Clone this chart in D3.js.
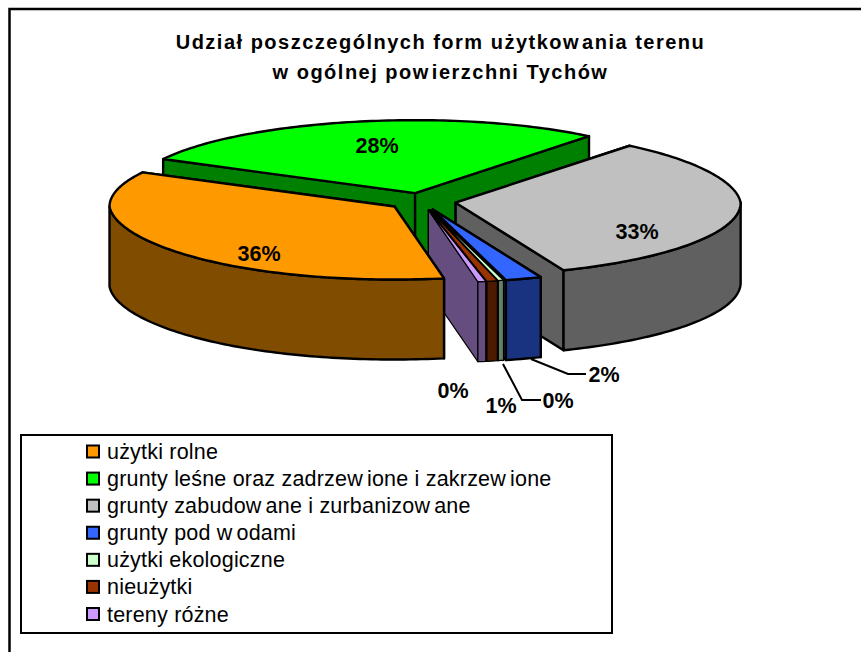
<!DOCTYPE html>
<html><head><meta charset="utf-8">
<style>html,body{margin:0;padding:0;background:#fff;overflow:hidden}svg{display:block}text{font-family:"Liberation Sans",Arial,sans-serif;fill:#000}</style>
<script src="https://cdn.jsdelivr.net/npm/d3@7"></script>
</head><body><script>
const titleLines = ["Udział poszczególnych form użytkowania terenu", "w ogólnej powierzchni Tychów"];
const categories = ["użytki rolne", "grunty leśne oraz zadrzewione i zakrzewione", "grunty zabudowane i zurbanizowane", "grunty pod wodami", "użytki ekologiczne", "nieużytki", "tereny różne"];
const values = [35.5, 28.0, 33.05, 2.05, 0.3, 0.6, 0.45];
const labels = ["36%", "28%", "33%", "2%", "0%", "1%", "0%"];
const colors = ["#FF9900", "#00FF00", "#C0C0C0", "#3366FF", "#CCFFCC", "#993300", "#CC99FF"];
const labelPos = [[259,253],[377,145],[637,231],[604,374],[558,400],[501,405],[453,390]];
const leaders = {3: [[531,359],[568,374],[586,374]], 4: [[503,364],[522,400],[541,400]]};

const W = 861, H = 652;
const cx = 422, cy = 201.5, rx = 285, ry = 73, depth = 80, explodeX = 34, explodeY = 8.5, backNarrow = 0.05;
const startAngle = 170 * Math.PI / 180;

const svg = d3.select("body").append("svg").attr("width", W).attr("height", H);
svg.append("path").attr("d", `M9.5,${H}V9H${W}`).attr("fill", "none").attr("stroke", "#000").attr("stroke-width", 2.5);

const arcs = d3.pie().sort(null).value(d => d).startAngle(startAngle).endAngle(startAngle + 2 * Math.PI)(values);
const line = d3.line();

function rimPoint(c, a, dy) {
  const k = 1 - backNarrow * Math.max(0, Math.cos(a) * Math.sin(a));
  return [c[0] + rx * k * Math.sin(a), c[1] - ry * Math.cos(a) + dy];
}
function rimPoints(c, a0, a1, dy) {
  const n = Math.max(2, Math.ceil((a1 - a0) / 0.02));
  return d3.range(n + 1).map(i => rimPoint(c, a0 + (a1 - a0) * i / n, dy));
}
function drawShape(g, pts, fill, sw) {
  g.append("path").attr("d", line(pts) + "Z").attr("fill", fill)
    .attr("stroke", "#000").attr("stroke-width", sw).attr("stroke-linejoin", "round");
}
function drawSlice(i) {
  const s = arcs[i], mid = (s.startAngle + s.endAngle) / 2;
  const sw = values[i] < 1 ? 1.25 : 2.4;
  const c = [cx + explodeX * Math.sin(mid), cy - explodeY * Math.cos(mid)];
  const g = svg.append("g");
  const base = d3.rgb(colors[i]);
  const wall = d3.rgb(base.r / 2, base.g / 2, base.b / 2).formatHex();
  const edge = a => {
    const p = rimPoint(c, a, 0);
    drawShape(g, [c, p, [p[0], p[1] + depth], [c[0], c[1] + depth]], wall, sw);
  };
  edge(s.startAngle);
  edge(s.endAngle);
  const lo = Math.PI / 2, hi = 3 * Math.PI / 2;
  [0, 2 * Math.PI].forEach(shift => {
    const a0 = Math.max(s.startAngle, lo + shift), a1 = Math.min(s.endAngle, hi + shift);
    if (a1 > a0) drawShape(g, rimPoints(c, a0, a1, 0).concat(rimPoints(c, a0, a1, depth).reverse()), wall, sw);
  });
  drawShape(g, [c].concat(rimPoints(c, s.startAngle, s.endAngle, 0)), colors[i], sw);
}
[1, 2, 3, 4, 5, 6, 0].forEach(drawSlice);

// The source renders "w" with a visible gap after it; keep the words whole, shift the following glyphs.
function spaced(t, str, gap) {
  str.split(/(?<=w)(?=[a-ząćęłńóśźż])/).forEach((part, i) => {
    const ts = t.append("tspan").text(part);
    if (i) ts.attr("dx", gap);
  });
  return t;
}
const titleY = [48.5, 79];
titleLines.forEach((l, i) => {
  spaced(svg.append("text").attr("x", 440.5).attr("y", titleY[i]).attr("text-anchor", "middle").attr("font-size", 20).attr("letter-spacing", 1.5).attr("font-weight", "bold"), l, 2);
});
labels.forEach((l, i) => {
  svg.append("text").attr("x", labelPos[i][0]).attr("y", labelPos[i][1] + 7.5).attr("text-anchor", "middle").attr("font-size", 21.5).attr("font-weight", "bold").text(l);
});
Object.values(leaders).forEach(pts => {
  svg.append("path").attr("d", line(pts)).attr("fill", "none").attr("stroke", "#000").attr("stroke-width", 2);
});

// legend
svg.append("rect").attr("x", 21).attr("y", 435).attr("width", 591).attr("height", 198).attr("fill", "#fff").attr("stroke", "#000").attr("stroke-width", 2);
const ly = d3.scalePoint().domain(d3.range(categories.length)).range([451.5, 614]);
categories.forEach((c, i) => {
  svg.append("rect").attr("x", 87).attr("y", ly(i) - 6).attr("width", 12).attr("height", 12).attr("fill", colors[i]).attr("stroke", "#000").attr("stroke-width", 2);
  spaced(svg.append("text").attr("x", 107).attr("y", ly(i) + 7.5).attr("font-size", 21.5).attr("letter-spacing", 0.2), c, 4);
});
</script></body></html>
